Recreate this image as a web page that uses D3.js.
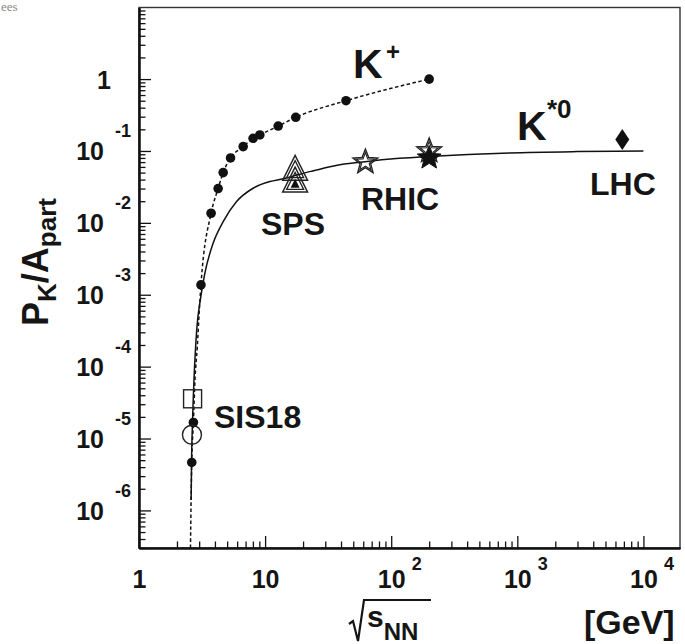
<!DOCTYPE html>
<html><head><meta charset="utf-8">
<script src="https://cdn.jsdelivr.net/npm/d3@7"></script>
<style>
body{margin:0;background:#fff}
svg{display:block}
text{font-family:"Liberation Sans",Arial,Helvetica,sans-serif;font-weight:bold;fill:#151515}
</style>
</head><body>
<svg id="c" width="685" height="644"></svg>
<script>
// ---------------- data ----------------
// K+ excitation function (filled circles)
const kPlusX = [2.62, 2.70, 3.1, 3.73, 4.24, 4.65, 5.32, 6.7, 8.03, 9.08, 12.7, 17.5, 43.8, 200];
const kPlusY = [4.65e-6, 1.67e-5, 1.37e-3, 0.0136, 0.030, 0.050, 0.080, 0.115, 0.150, 0.167, 0.222, 0.294, 0.50, 1.0];
// dotted K+ curve
const kPlusCurveX = [2.56, 2.59, 2.62, 2.70, 2.78, 2.90, 3.0, 3.1, 3.73, 4.24, 4.65, 5.32, 6.7, 8.03, 9.08, 12.7, 17.5, 43.8, 200];
const kPlusCurveY = [3.0e-7, 1.5e-6, 4.65e-6, 1.67e-5, 6.6e-5, 1.9e-4, 5.6e-4, 1.37e-3, 0.0136, 0.030, 0.050, 0.080, 0.115, 0.150, 0.167, 0.222, 0.294, 0.50, 1.0];
// solid K*0 curve
const kStarCurveX = [2.59, 2.61, 2.66, 2.73, 2.87, 3.08, 3.33, 3.87, 4.65, 5.94, 8.03, 10.9, 13.9, 17.3, 23, 35, 62, 116, 200, 870, 3000, 10000];
const kStarCurveY = [1.4e-6, 4.6e-6, 1.84e-5, 6.6e-5, 3.3e-4, 9.0e-4, 2.0e-3, 5.2e-3, 0.0104, 0.0198, 0.0303, 0.0375, 0.0410, 0.0455, 0.052, 0.062, 0.071, 0.079, 0.084, 0.094, 0.098, 0.100];
// K*0 measurements
const sisSquareX = [2.66],  sisSquareY = [3.57e-5];
const sisCircleX = [2.63],  sisCircleY = [1.13e-5];
const spsOpenX = [17.3, 17.3], spsOpenY = [0.051, 0.035];
const spsFilledX = [17.3], spsFilledY = [0.035];
const rhicOpenX = [62.4, 200], rhicOpenY = [0.070, 0.100];
const rhicFilledX = [200], rhicFilledY = [0.080];
const lhcX = [6800], lhcY = [0.144];
// ticks
const xTickValues = [1, 10, 100, 1000, 10000];
const xTickBase = ["1", "10", "10", "10", "10"];
const xTickExp = [null, null, "2", "3", "4"];
const yTickValues = [1e-6, 1e-5, 1e-4, 1e-3, 1e-2, 1e-1, 1];
const yTickBase = ["10", "10", "10", "10", "10", "10", "1"];
const yTickExp = ["-6", "-5", "-4", "-3", "-2", "-1", null];

// ---------------- layout ----------------
const L = 139, R = 680, T = 7.5, B = 548;
const svg = d3.select("#c");
const x = d3.scaleLog().domain([1, 19500]).range([L, R]);
const y = d3.scaleLog().domain([3.0e-7, 9.9]).range([B, T]);

// faint fragment of the page header above the figure
svg.append("text").attr("x", 1).attr("y", 11).style("font-family", "'Liberation Serif',serif")
  .style("font-weight", "normal").style("font-size", "13px").style("fill", "#888").text("ees");

// frame
svg.append("rect").attr("x", L).attr("y", T).attr("width", R - L).attr("height", B - T)
  .attr("fill", "none").attr("stroke", "#333").attr("stroke-width", 1.4);

const isDecade = v => Math.abs(Math.log10(v) - Math.round(Math.log10(v))) < 1e-9;

// y axis
const gY = svg.append("g").attr("transform", `translate(${L},0)`);
gY.call(d3.axisLeft(y).tickValues(yTickValues).tickSizeInner(-12).tickSizeOuter(0).tickFormat(() => ""));
const gYm = svg.append("g").attr("transform", `translate(${L},0)`);
gYm.call(d3.axisLeft(y).tickValues(y.ticks().filter(v => !isDecade(v))).tickSizeInner(-6.5).tickSizeOuter(0).tickFormat(() => ""));
// x axis
const gX = svg.append("g").attr("transform", `translate(0,${B})`);
gX.call(d3.axisBottom(x).tickValues(xTickValues).tickSizeInner(-12).tickSizeOuter(0).tickFormat(() => ""));
const gXm = svg.append("g").attr("transform", `translate(0,${B})`);
gXm.call(d3.axisBottom(x).tickValues(x.ticks().filter(v => !isDecade(v))).tickSizeInner(-6.5).tickSizeOuter(0).tickFormat(() => ""));

[gY, gYm, gX, gXm].forEach(g => {
  g.selectAll(".tick text").remove();
  g.select(".domain").attr("stroke", "#111").attr("stroke-width", 2);
  g.selectAll(".tick line").attr("stroke", "#111").attr("stroke-width", 1.3);
});

gY.selectAll(".tick").each(function (d, i) {
  const g = d3.select(this);
  if (yTickExp[i] === null) {
    g.append("text").attr("x", -28).attr("y", 9).attr("text-anchor", "end").style("font-size", "25px").text(yTickBase[i]);
  } else {
    g.append("text").attr("x", -35).attr("y", 9).attr("text-anchor", "end").style("font-size", "25px").text(yTickBase[i]);
    g.append("text").attr("x", -24).attr("y", -14).attr("text-anchor", "start").style("font-size", "18px").text(yTickExp[i]);
  }
});
gX.selectAll(".tick").each(function (d, i) {
  const g = d3.select(this);
  g.append("text").attr("x", 0).attr("y", 40).attr("text-anchor", "middle").style("font-size", "25px").text(xTickBase[i]);
  if (xTickExp[i] !== null)
    g.append("text").attr("x", 20).attr("y", 22).attr("text-anchor", "start").style("font-size", "18px").text(xTickExp[i]);
});

// ---------------- curves ----------------
const line = d3.line().x(d => x(d[0])).y(d => y(d[1])).curve(d3.curveMonotoneX);
const plot = svg.append("g");
plot.append("path").datum(kStarCurveX.map((v, i) => [v, kStarCurveY[i]]))
  .attr("d", line).attr("fill", "none").attr("stroke", "#111").attr("stroke-width", 1.5);
plot.append("path").datum(kPlusCurveX.map((v, i) => [v, kPlusCurveY[i]]))
  .attr("d", line).attr("fill", "none").attr("stroke", "#111").attr("stroke-width", 1.5)
  .attr("stroke-dasharray", "3.5,2.5");

// ---------------- markers ----------------
plot.selectAll("circle.kp").data(kPlusX.map((v, i) => [v, kPlusY[i]])).join("circle")
  .attr("class", "kp").attr("cx", d => x(d[0])).attr("cy", d => y(d[1])).attr("r", 4.8).attr("fill", "#111");

plot.selectAll("rect.sis").data(sisSquareX.map((v, i) => [v, sisSquareY[i]])).join("rect")
  .attr("class", "sis").attr("x", d => x(d[0]) - 9).attr("y", d => y(d[1]) - 9).attr("width", 18).attr("height", 18)
  .attr("fill", "none").attr("stroke", "#222").attr("stroke-width", 1.4);
plot.selectAll("circle.sisc").data(sisCircleX.map((v, i) => [v, sisCircleY[i]])).join("circle")
  .attr("class", "sisc").attr("cx", d => x(d[0])).attr("cy", d => y(d[1])).attr("r", 9.5)
  .attr("fill", "none").attr("stroke", "#222").attr("stroke-width", 1.4);

function triPath(w, h) {
  return `M0,${-2 * h / 3}L${w / 2},${h / 3}L${-w / 2},${h / 3}Z`;
}
const spsOpen = plot.selectAll("g.sps").data(spsOpenX.map((v, i) => [v, spsOpenY[i]])).join("g")
  .attr("class", "sps").attr("transform", d => `translate(${x(d[0])},${y(d[1])})`);
spsOpen.append("path").attr("d", triPath(25, 25)).attr("fill", "none").attr("stroke", "#222").attr("stroke-width", 1.4);
spsOpen.append("path").attr("d", triPath(17, 17)).attr("fill", "none").attr("stroke", "#222").attr("stroke-width", 1.3);
plot.selectAll("path.spsf").data(spsFilledX.map((v, i) => [v, spsFilledY[i]])).join("path")
  .attr("class", "spsf").attr("transform", d => `translate(${x(d[0])},${y(d[1]) + 1})`)
  .attr("d", triPath(9, 9)).attr("fill", "#111");

function starPath(Ro, Ri) {
  const pts = [];
  for (let k = 0; k < 10; k++) {
    const a = -Math.PI / 2 + k * Math.PI / 5, r = k % 2 ? Ri : Ro;
    pts.push([r * Math.cos(a), r * Math.sin(a)]);
  }
  return "M" + pts.map(p => p[0].toFixed(2) + "," + p[1].toFixed(2)).join("L") + "Z";
}
const rhicOpen = plot.selectAll("g.rhic").data(rhicOpenX.map((v, i) => [v, rhicOpenY[i]])).join("g")
  .attr("class", "rhic").attr("transform", d => `translate(${x(d[0])},${y(d[1])})`);
rhicOpen.append("path").attr("d", starPath(13, 5.6)).attr("fill", "none").attr("stroke", "#222").attr("stroke-width", 1.4);
rhicOpen.append("path").attr("d", starPath(9.5, 4.0)).attr("fill", "none").attr("stroke", "#222").attr("stroke-width", 1.1);
plot.selectAll("path.rhicf").data(rhicFilledX.map((v, i) => [v, rhicFilledY[i]])).join("path")
  .attr("class", "rhicf").attr("transform", d => `translate(${x(d[0])},${y(d[1])})`)
  .attr("d", starPath(12.5, 5.4)).attr("fill", "#111").attr("stroke", "#111").attr("stroke-width", 1);

plot.selectAll("path.lhc").data(lhcX.map((v, i) => [v, lhcY[i]])).join("path")
  .attr("class", "lhc").attr("transform", d => `translate(${x(d[0])},${y(d[1])})`)
  .attr("d", "M0,-10.5L7,0L0,10.5L-7,0Z").attr("fill", "#111");

// ---------------- annotations ----------------
function label(px, py, size, str) {
  svg.append("text").attr("x", px).attr("y", py).style("font-size", size + "px").text(str);
}
label(353, 78, 41, "K");
label(386, 60, 24, "+");
label(517, 140, 41, "K");
label(547, 118, 26, "*0");
label(261, 235, 32, "SPS");
label(361, 210, 32, "RHIC");
label(590, 195, 32, "LHC");
label(214, 428, 32, "SIS18");

// y title
const yt = svg.append("text").attr("transform", "translate(48,262) rotate(-90)").attr("text-anchor", "middle")
  .style("font-size", "36px");
yt.append("tspan").text("P");
yt.append("tspan").attr("dy", 8).style("font-size", "26px").text("K");
yt.append("tspan").attr("dy", -8).text("/A");
yt.append("tspan").attr("dy", 8).style("font-size", "26px").text("part");

// x title
svg.append("path").attr("d", "M349,624L353,621L358,641L364,600L431,600")
  .attr("fill", "none").attr("stroke", "#151515").attr("stroke-width", 2.2);
const xt = svg.append("text").attr("x", 367).attr("y", 627).style("font-size", "30px");
xt.append("tspan").text("s");
xt.append("tspan").attr("dy", 13).style("font-size", "24px").text("NN");
svg.append("text").attr("x", 584).attr("y", 634).style("font-size", "34px").text("[GeV]");
</script>
</body></html>
